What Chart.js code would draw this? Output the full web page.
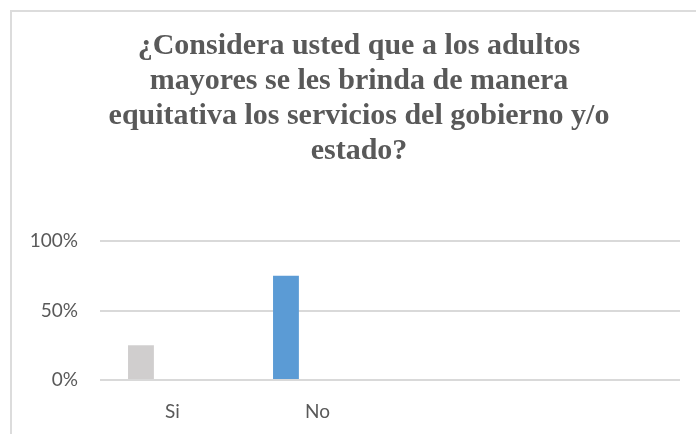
<!DOCTYPE html>
<html>
<head>
<meta charset="utf-8">
<script src="https://cdn.jsdelivr.net/npm/chart.js@4/dist/chart.umd.min.js"></script>
<style>
  body { margin: 0; overflow: hidden; background: #fff; }
  #wrap {
    position: absolute; left: 10px; top: 10px;
    width: 694px; height: 422px;
    border-left: 2px solid #dcdcdc; border-top: 2px solid #dcdcdc;
  }
</style>
</head>
<body>
<div id="wrap"><canvas id="myChart" width="694" height="422"></canvas></div>
<script>
// chart data
const categories = ['Si', 'No', '', ''];
const respuestas = [0.25, 0.75, null, null];
const otraSerie = [null, null, null, null];
const barColors = ['#d0cece', '#5b9bd5', '#d0cece', '#5b9bd5'];
const yTicks = [0, 0.5, 1];
const titleLines = [
    '¿Considera usted que a los adultos',
    'mayores se les brinda de manera',
    'equitativa los servicios del gobierno y/o',
    'estado?'
];

let ctx = document.getElementById('myChart').getContext('2d');
let myChart = new Chart(ctx, {
    type: 'bar',
    data: {
        labels: categories,
        datasets: [{
            data: respuestas,
            backgroundColor: barColors,
            categoryPercentage: 0.87,
            barPercentage: 0.41
        }, {
            data: otraSerie,
            backgroundColor: '#a5a5a5',
            categoryPercentage: 0.87,
            barPercentage: 0.41
        }]
    },
    options: {
        responsive: false,
        animation: false,
        layout: { padding: 0 },
        plugins: {
            legend: { display: false },
            tooltip: { enabled: false },
            title: {
                display: true,
                text: titleLines,
                color: '#595959',
                font: { family: '"Liberation Serif", "Times New Roman", serif', size: 30, weight: 'bold', lineHeight: 1.167 },
                padding: { top: 17, bottom: 72 }
            }
        },
        scales: {
            x: {
                grid: { display: false, drawTicks: false },
                border: { display: false },
                afterFit: axis => { axis.height = 54; },
                ticks: { color: '#595959', padding: 20, font: { family: 'Lato, sans-serif', size: 19 } }
            },
            y: {
                min: 0,
                max: 1,
                afterBuildTicks: axis => { axis.ticks = yTicks.map(v => ({ value: v })); },
                afterFit: axis => { axis.width = 88; },
                grid: { color: '#d9d9d9', lineWidth: 2, drawTicks: false },
                border: { display: false },
                ticks: {
                    color: '#595959',
                    padding: 22,
                    font: { family: 'Lato, sans-serif', size: 19 },
                    callback: v => Math.round(v * 100) + '%'
                }
            },
            // empty axis on the right just to leave the gap after the gridlines
            yRight: {
                type: 'linear',
                position: 'right',
                grid: { display: false, drawTicks: false },
                border: { display: false },
                ticks: { display: false },
                afterFit: axis => { axis.width = 26; }
            }
        }
    }
});
</script>
</body>
</html>
